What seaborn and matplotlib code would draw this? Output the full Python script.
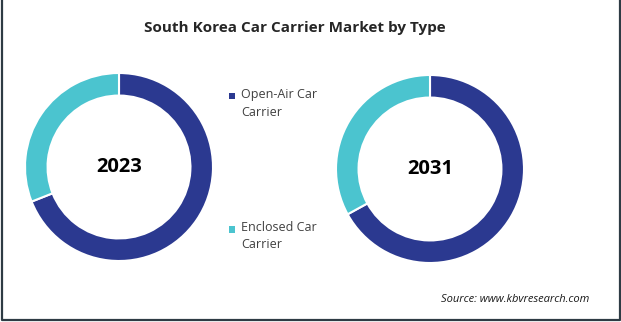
import matplotlib
matplotlib.use("Agg")
import matplotlib.pyplot as plt
import seaborn as sns
from matplotlib.patches import Rectangle
from matplotlib.lines import Line2D

sns.set_theme(style="white")
plt.rcParams['font.family'] = ['Open Sans', 'DejaVu Sans']

categories = ["Open-Air Car\nCarrier", "Enclosed Car\nCarrier"]
years = ["2023", "2031"]
share_2023 = [69, 31]
share_2031 = [67, 33]
colors = ["#2B3990", "#4BC4CF"]

W, H = 621, 322
fig = plt.figure(figsize=(W / 100, H / 100), dpi=100)
fig.patch.set_facecolor("white")

def add_donut(cx, cy, r, values, label):
    ax = fig.add_axes([(cx - r) / W, (H - cy - r) / H, 2 * r / W, 2 * r / H])
    ax.pie(values, colors=colors, startangle=90, counterclock=False,
           radius=1.0, wedgeprops=dict(width=0.24, edgecolor="white", linewidth=1.5))
    ax.set_xlim(-1, 1)
    ax.set_ylim(-1, 1)
    ax.set_aspect("equal")
    ax.axis("off")
    ax.text(0, 0, label, ha="center", va="center", fontsize=14.5,
            fontweight="bold", color="black")
    return ax

add_donut(119, 167, 94, share_2023, years[0])
add_donut(430, 169, 94, share_2031, years[1])

fig.text(295 / W, 1 - 28 / H, "South Korea Car Carrier Market by Type",
         ha="center", va="center", fontsize=11, fontweight="bold", color="#262626")

# legend entries (marker aligned with first text line)
legend_y = [96, 229]
for cat, col, ly in zip(categories, colors, legend_y):
    fig.patches.append(Rectangle((229 / W, 1 - (ly + 3.5) / H), 6.5 / W, 6.5 / H,
                                 transform=fig.transFigure, facecolor=col,
                                 edgecolor="none"))
    fig.text(241 / W, 1 - (ly - 8) / H, cat, ha="left", va="top", fontsize=9,
             color="#404040", linespacing=1.45)

fig.text(589 / W, 1 - 300 / H, "Source: www.kbvresearch.com", ha="right",
         va="center", fontsize=8, style="italic", color="#1a1a1a")

# frame: left, right and bottom edges only
bx = [1.5 / W, 1.5 / W, (W - 1.5) / W, (W - 1.5) / W]
by = [1.0, 2.0 / H, 2.0 / H, 1.0]
fig.lines.append(Line2D(bx, by, transform=fig.transFigure,
                        color="#2E3B44", linewidth=1.6))

fig.savefig("out.png", dpi=100, facecolor="white")
